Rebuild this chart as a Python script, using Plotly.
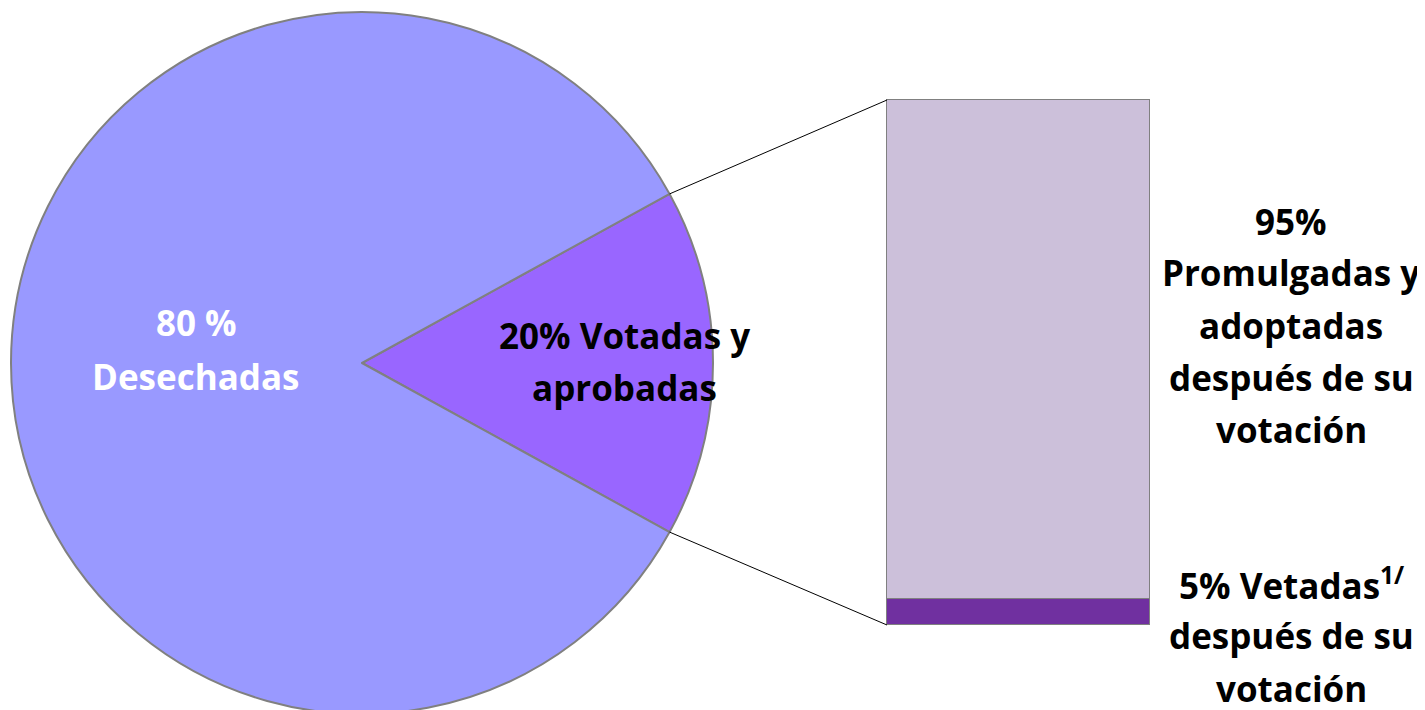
import math
import plotly.graph_objects as go

W, H = 1425, 710
OFF = 8  # page body margin offset of the rendered figure

# ---- data ----
pie_categories = ["Desechadas", "Votadas y aprobadas"]
pie_values = [84, 16]          # slice sizes as drawn
pie_colors = ["#9999FF", "#9966FF"]

bar_categories = ["Vetadas", "Promulgadas y adoptadas"]
bar_values = [5, 95]
bar_colors = ["#7030A0", "#CCC0DA"]

pie_label_lines = [["80 %", "Desechadas"], ["20% Votadas y", "aprobadas"]]
bar_label_lines = [["5% Vetadas<sup>1/</sup>", "después de su", "votación"],
                   ["95%", "Promulgadas y", "adoptadas", "después de su", "votación"]]

FONT = "Open Sans"
FSIZE = 35


def px_x(x):
    return (x - OFF) / W


def px_y(y):
    return (H - (y - OFF)) / H


fig = go.Figure()

# pie geometry (paper domain): centre ~ (362, 363) page px, radius ~351
pie_cx, pie_cy, pie_r = 362, 363, 351
pie_dom_x = [0.0, px_x(pie_cx + pie_cx - OFF)]
pie_dom_y = [px_y(pie_cy + pie_r), px_y(pie_cy - pie_r)]
total = sum(pie_values)
half_small = 360 * pie_values[1] / total / 2
rotation = 90 - half_small  # small slice first, centred at 3 o'clock

fig.add_trace(go.Pie(
    labels=pie_categories[::-1], values=pie_values[::-1],
    marker=dict(colors=pie_colors[::-1], line=dict(color="#808080", width=2)),
    sort=False, direction="clockwise", rotation=rotation,
    textinfo="none", hoverinfo="label+percent", showlegend=False,
    domain=dict(x=pie_dom_x, y=pie_dom_y),
))

# stacked bar (axis area padded a few px so the outline is not clipped)
bx0, bx1, by_top, by_bot = 887, 1150, 100, 625
PAD = 3
bar_dom_x = [px_x(bx0 - PAD), px_x(bx1 + PAD)]
bar_dom_y = [px_y(by_bot + PAD), px_y(by_top - PAD)]
xpad = PAD / (bx1 - bx0)
ypad = PAD * 100 / (by_bot - by_top)
for cat, val, col in zip(bar_categories, bar_values, bar_colors):
    fig.add_trace(go.Bar(
        x=[0], y=[val], name=cat, width=1,
        marker=dict(color=col, line=dict(color="#808080", width=1.5)),
        showlegend=False,
    ))

# connector lines from pie slice corners to bar corners
wpx = (pie_dom_x[1] - pie_dom_x[0]) * W
hpx = (pie_dom_y[1] - pie_dom_y[0]) * H
r = min(wpx, hpx) / 2
cx_paper = (pie_dom_x[0] + pie_dom_x[1]) / 2
cy_paper = (pie_dom_y[0] + pie_dom_y[1]) / 2
th = math.radians(half_small)
for sgn, by in [(1, px_y(by_top)), (-1, px_y(by_bot))]:
    px = cx_paper + r * math.cos(th) / W
    py = cy_paper + sgn * r * math.sin(th) / H
    fig.add_shape(type="line", xref="paper", yref="paper",
                  x0=px, y0=py, x1=px_x(bx0), y1=by,
                  line=dict(color="black", width=1))


def add_lines(lines, xc, y_first, spacing, color):
    for i, t in enumerate(lines):
        fig.add_annotation(x=px_x(xc), y=px_y(y_first + i * spacing),
                           xref="paper", yref="paper", text="<b>%s</b>" % t,
                           showarrow=False, xanchor="center", yanchor="middle",
                           font=dict(family=FONT, size=FSIZE, color=color))


add_lines(pie_label_lines[0], 196, 322, 54, "white")
add_lines(pie_label_lines[1], 624, 335, 53, "black")
add_lines(bar_label_lines[1], 1291, 221, 52, "black")
add_lines(bar_label_lines[0], 1291, 583, 52.5, "black")

fig.update_layout(
    width=W, height=H, margin=dict(l=0, r=0, t=0, b=0),
    paper_bgcolor="white", plot_bgcolor="rgba(0,0,0,0)",
    barmode="stack", bargap=0,
    xaxis=dict(domain=bar_dom_x, range=[-0.5 - xpad, 0.5 + xpad],
               visible=False, fixedrange=True),
    yaxis=dict(domain=bar_dom_y, range=[-ypad, 100 + ypad],
               visible=False, fixedrange=True),
    font=dict(family=FONT),
)

fig.write_html("out.html")
